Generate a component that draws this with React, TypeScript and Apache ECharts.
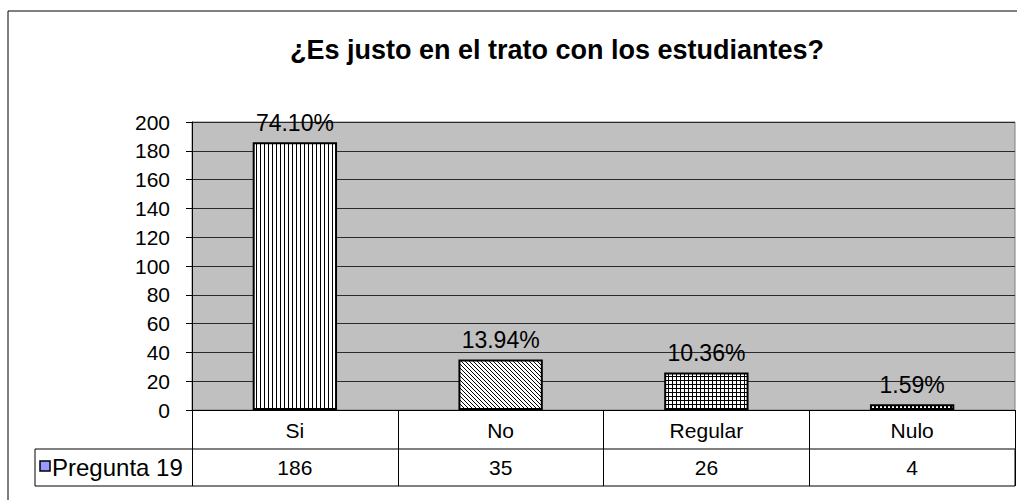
import React, { useEffect, useRef } from "react";
import * as echarts from "echarts";

const TITLE = "¿Es justo en el trato con los estudiantes?";
const SERIES_NAME = "Pregunta 19";
const CATEGORIES = ["Si", "No", "Regular", "Nulo"];
const VALUES = [186, 35, 26, 4];
const PERCENT_LABELS = ["74.10%", "13.94%", "10.36%", "1.59%"];
const PATTERN_KINDS = ["vertical", "diagonal", "grid", "checker"];

const FONT = "'Liberation Sans', Arial, sans-serif";

function makePattern(kind: string) {
  const c = document.createElement("canvas");
  const size = 4;
  c.width = size;
  c.height = size;
  const ctx = c.getContext("2d")!;
  ctx.fillStyle = "#ffffff";
  ctx.fillRect(0, 0, size, size);
  ctx.fillStyle = "#000000";
  if (kind === "vertical") {
    ctx.fillRect(0, 0, 1, size);
  } else if (kind === "diagonal") {
    for (let i = 0; i < size; i++) ctx.fillRect(i, i, 1, 1);
  } else if (kind === "grid") {
    ctx.fillRect(0, 0, size, 1);
    ctx.fillRect(0, 0, 1, size);
  } else {
    ctx.fillRect(0, 0, 2, 2);
    ctx.fillRect(2, 2, 2, 2);
  }
  return { image: c, repeat: "repeat", imageWidth: size, imageHeight: size };
}

export default function App() {
  const ref = useRef<HTMLDivElement>(null);
  useEffect(() => {
    document.body.style.margin = "0";
    if (!ref.current) return;
    const chart = echarts.init(ref.current, null, { renderer: "svg" });
    const data = VALUES.map((v, i) => ({
      value: v,
      itemStyle: { color: makePattern(PATTERN_KINDS[i]) as any },
      label: { formatter: PERCENT_LABELS[i] },
    }));
    chart.setOption({
      animation: false,
      backgroundColor: "#ffffff",
      title: {
        text: TITLE,
        left: 552,
        textAlign: "center",
        top: 31,
        textStyle: { fontFamily: FONT, fontSize: 27, fontWeight: "bold", color: "#000" },
      },
      grid: {
        left: 192,
        right: 2,
        top: 122,
        bottom: 90,
        show: true,
        backgroundColor: "#c0c0c0",
        borderColor: "#808080",
        borderWidth: 1,
      },
      xAxis: [
        {
          type: "category",
          data: CATEGORIES,
          position: "bottom",
          axisLine: { show: true, lineStyle: { color: "#000", width: 1 } },
          axisTick: { show: true, length: 76, lineStyle: { color: "#000", width: 1 } },
          axisLabel: { margin: 10, fontFamily: FONT, fontSize: 21, color: "#000" },
          splitLine: { show: false },
        },
        {
          type: "category",
          data: VALUES.map(String),
          position: "bottom",
          offset: 39,
          axisLine: { show: false },
          axisTick: { show: false },
          axisLabel: { margin: 8, fontFamily: FONT, fontSize: 21, color: "#000" },
          splitLine: { show: false },
        },
      ],
      yAxis: {
        type: "value",
        min: 0,
        max: 200,
        interval: 20,
        axisLine: { show: true, lineStyle: { color: "#000", width: 1 } },
        axisTick: { show: true, length: 6, lineStyle: { color: "#000" } },
        axisLabel: { margin: 22, fontFamily: FONT, fontSize: 21, color: "#000" },
        splitLine: { show: true, lineStyle: { color: "#2a2a2a", width: 1 } },
      },
      series: [
        {
          name: SERIES_NAME,
          type: "bar",
          xAxisIndex: 0,
          data,
          barWidth: "41%",
          itemStyle: { borderColor: "#000", borderWidth: 2 },
          label: {
            show: true,
            position: "top",
            distance: 8,
            fontFamily: FONT,
            fontSize: 23,
            color: "#000",
          },
        },
      ],
      graphic: [
        {
          type: "rect",
          shape: { x: 8, y: 11, width: 1030, height: 520 },
          style: { fill: "none", stroke: "#000", lineWidth: 1 },
          silent: true,
          z: 100,
        },
        {
          type: "rect",
          shape: { x: 35, y: 449, width: 980, height: 37 },
          style: { fill: "none", stroke: "#000", lineWidth: 1 },
          silent: true,
          z: 100,
        },
        {
          type: "rect",
          shape: { x: 40, y: 461, width: 10, height: 10 },
          style: { fill: "#9999ff", stroke: "#000", lineWidth: 1.5 },
          z: 100,
        },
        {
          type: "text",
          x: 52,
          y: 467,
          style: {
            text: SERIES_NAME,
            fontFamily: FONT,
            fontSize: 24,
            fill: "#000",
            verticalAlign: "middle",
            align: "left",
          },
          z: 100,
        },
      ],
    });
    return () => chart.dispose();
  }, []);
  return <div ref={ref} style={{ width: 1017, height: 500 }} />;
}
